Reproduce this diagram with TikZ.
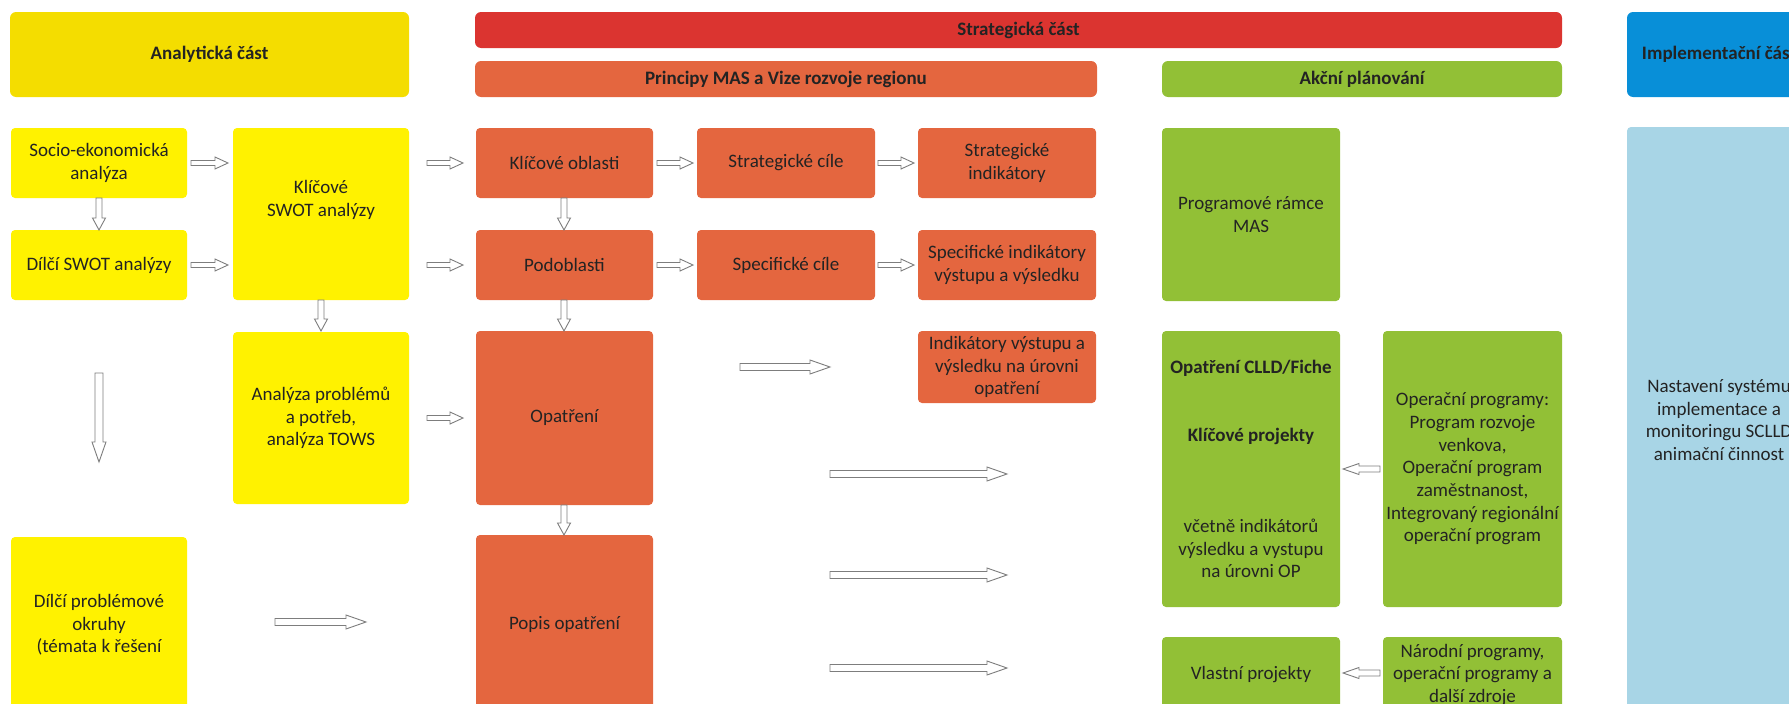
\documentclass[tikz,border=0pt]{standalone}
\usepackage{fontspec}
\setmainfont{Carlito}
\definecolor{hdrYellow}{RGB}{244,221,0}
\definecolor{boxYellow}{RGB}{255,242,0}
\definecolor{stratRed}{RGB}{219,52,48}
\definecolor{boxOrange}{RGB}{228,102,63}
\definecolor{boxGreen}{RGB}{146,192,54}
\definecolor{hdrBlue}{RGB}{8,143,216}
\definecolor{boxBlue}{RGB}{168,213,230}
\definecolor{arrowGray}{RGB}{125,125,125}
\definecolor{txt}{RGB}{35,35,35}
\newcommand{\blockarrow}[6]{% rotation, start, length, shaft half, head half, head length
  \pgfmathsetmacro{\baHeadStart}{#3-#6}%
  \begin{scope}[shift={#2}, rotate=#1]
    \draw[blockarr] (0pt,#4pt) -- (\baHeadStart pt,#4pt) -- (\baHeadStart pt,#5pt) -- (#3pt,0pt)
      -- (\baHeadStart pt,-#5pt) -- (\baHeadStart pt,-#4pt) -- (0pt,-#4pt) -- cycle;
  \end{scope}}
\tikzset{
  base/.style={inner sep=0pt, outer sep=0pt, anchor=north west, align=center, text=txt,
    font=\fontsize{19}{22.7}\selectfont, rounded corners=4pt},
  ybox/.style={base, fill=boxYellow},
  obox/.style={base, fill=boxOrange},
  gbox/.style={base, fill=boxGreen},
  hdr/.style={base, font=\bfseries\fontsize{19}{22.7}\selectfont, rounded corners=6pt},
  blockarr/.style={draw=arrowGray, fill=white, line width=0.9pt, line join=miter},
  plain/.style={inner sep=0pt, align=center, text=txt, font=\fontsize{19}{22.7}\selectfont},
}
\begin{document}
\begin{tikzpicture}[x=1pt, y=-1pt]
\useasboundingbox (0,0) rectangle (1789,704);
\clip (0,0) rectangle (1789,704);
% headers
\node[hdr, fill=hdrYellow, minimum width=399pt, minimum height=85pt] (hAnal) at (10,12) {Analytická část};
\node[hdr, fill=stratRed, minimum width=1087pt, minimum height=36pt] (hStrat) at (475,12) {Strategická část};
\node[hdr, fill=boxOrange, minimum width=622pt, minimum height=36pt] (hPrinc) at (475,61) {Principy MAS a Vize rozvoje regionu};
\node[hdr, fill=boxGreen, minimum width=400pt, minimum height=36pt] (hAkce) at (1162,61) {Akční plánování};
\node[hdr, fill=hdrBlue, minimum width=184pt, minimum height=85pt] (hImpl) at (1627,12) {Implementační část};
% analytical column
\node[ybox, minimum width=176pt, minimum height=70pt] (socio) at (11,128) {Socio-ekonomická\\analýza};
\node[ybox, minimum width=176pt, minimum height=70pt] (dilciswot) at (11,230) {Dílčí SWOT analýzy};
\node[ybox, minimum width=176pt, minimum height=176pt] (dilciprob) at (11,537) {Dílčí problémové\\okruhy\\(témata k řešení};
\node[ybox, minimum width=176pt, minimum height=172pt] (swot) at (233,128) {};
\node[plain] (swottext) at (321,200) {Klíčové\\SWOT analýzy};
\node[ybox, minimum width=176pt, minimum height=172pt] (analyza) at (233,332) {Analýza problémů\\a potřeb,\\analýza TOWS};
% strategic
\node[obox, minimum width=177pt, minimum height=70pt] (klicove) at (476,128) {Klíčové oblasti};
\node[obox, minimum width=177pt, minimum height=70pt] (podobl) at (476,230) {Podoblasti};
\node[obox, minimum width=177pt, minimum height=174pt] (opatreni) at (476,331) {Opatření};
\node[obox, minimum width=177pt, minimum height=178pt] (popis) at (476,535) {Popis opatření};
\node[obox, minimum width=178pt, minimum height=70pt] (strcile) at (697,128) {Strategické cíle};
\node[obox, minimum width=178pt, minimum height=70pt] (speccile) at (697,230) {Specifické cíle};
\node[obox, minimum width=178pt, minimum height=70pt] (strind) at (918,128) {Strategické\\indikátory};
\node[obox, minimum width=178pt, minimum height=70pt] (specind) at (918,230) {Specifické indikátory\\výstupu a výsledku};
\node[obox, minimum width=178pt, minimum height=72pt] (indopat) at (918,331) {Indikátory výstupu a\\výsledku na úrovni\\opatření};
% action planning
\node[gbox, minimum width=178pt, minimum height=173pt] (program) at (1162,128) {Programové rámce\\MAS};
\node[gbox, minimum width=178pt, minimum height=276pt] (clld) at (1162,331) {\textbf{Opatření CLLD/Fiche}\\[45.4pt]\textbf{Klíčové projekty}\\[68.1pt]včetně indikátorů\\výsledku a vystupu\\na úrovni OP};
\node[gbox, minimum width=178pt, minimum height=76pt] (vlastni) at (1162,637) {Vlastní projekty};
\node[gbox, minimum width=179pt, minimum height=276pt] (operacni) at (1383,331) {Operační programy:\\Program rozvoje\\venkova,\\Operační program\\zaměstnanost,\\Integrovaný regionální\\operační program};
\node[gbox, minimum width=179pt, minimum height=76pt] (narodni) at (1383,637) {Národní programy,\\operační programy a\\další zdroje};
% implementation
\node[base, fill=boxBlue, minimum width=184pt, minimum height=586pt] (implement) at (1627,127) {Nastavení systému\\implementace a\\monitoringu SCLLD\\animační činnost};
% small right arrows
\blockarrow{0}{(191,163)}{37}{2.5}{6}{13}
\blockarrow{0}{(427,163)}{36}{2.5}{6}{13}
\blockarrow{0}{(657,163)}{36}{2.5}{6}{13}
\blockarrow{0}{(878,163)}{36}{2.5}{6}{13}
\blockarrow{0}{(191,265)}{37}{2.5}{6}{13}
\blockarrow{0}{(427,265)}{36}{2.5}{6}{13}
\blockarrow{0}{(657,265)}{36}{2.5}{6}{13}
\blockarrow{0}{(878,265)}{36}{2.5}{6}{13}
\blockarrow{0}{(427,418)}{36}{2.5}{6}{13}
% long right arrows
\blockarrow{0}{(740,367)}{90}{3.5}{7}{20}
\blockarrow{0}{(830,474)}{177}{3.5}{7}{20}
\blockarrow{0}{(830,575)}{177}{3.5}{7}{20}
\blockarrow{0}{(830,668)}{177}{3.5}{7}{20}
\blockarrow{0}{(275,622)}{91}{3.5}{7}{20}
% down arrows
\blockarrow{-90}{(99,198)}{32}{3}{6.5}{12}
\blockarrow{-90}{(321,300)}{31}{3}{6.5}{12}
\blockarrow{-90}{(564,198)}{32}{3}{6.5}{12}
\blockarrow{-90}{(564,300)}{31}{3}{6.5}{12}
\blockarrow{-90}{(564,505)}{30}{3}{6.5}{12}
\blockarrow{-90}{(99,373)}{89}{4}{7}{20}
% left arrows
\blockarrow{180}{(1380,469)}{37}{3}{5.5}{16}
\blockarrow{180}{(1380,673)}{37}{3}{5.5}{16}
\end{tikzpicture}
\end{document}
